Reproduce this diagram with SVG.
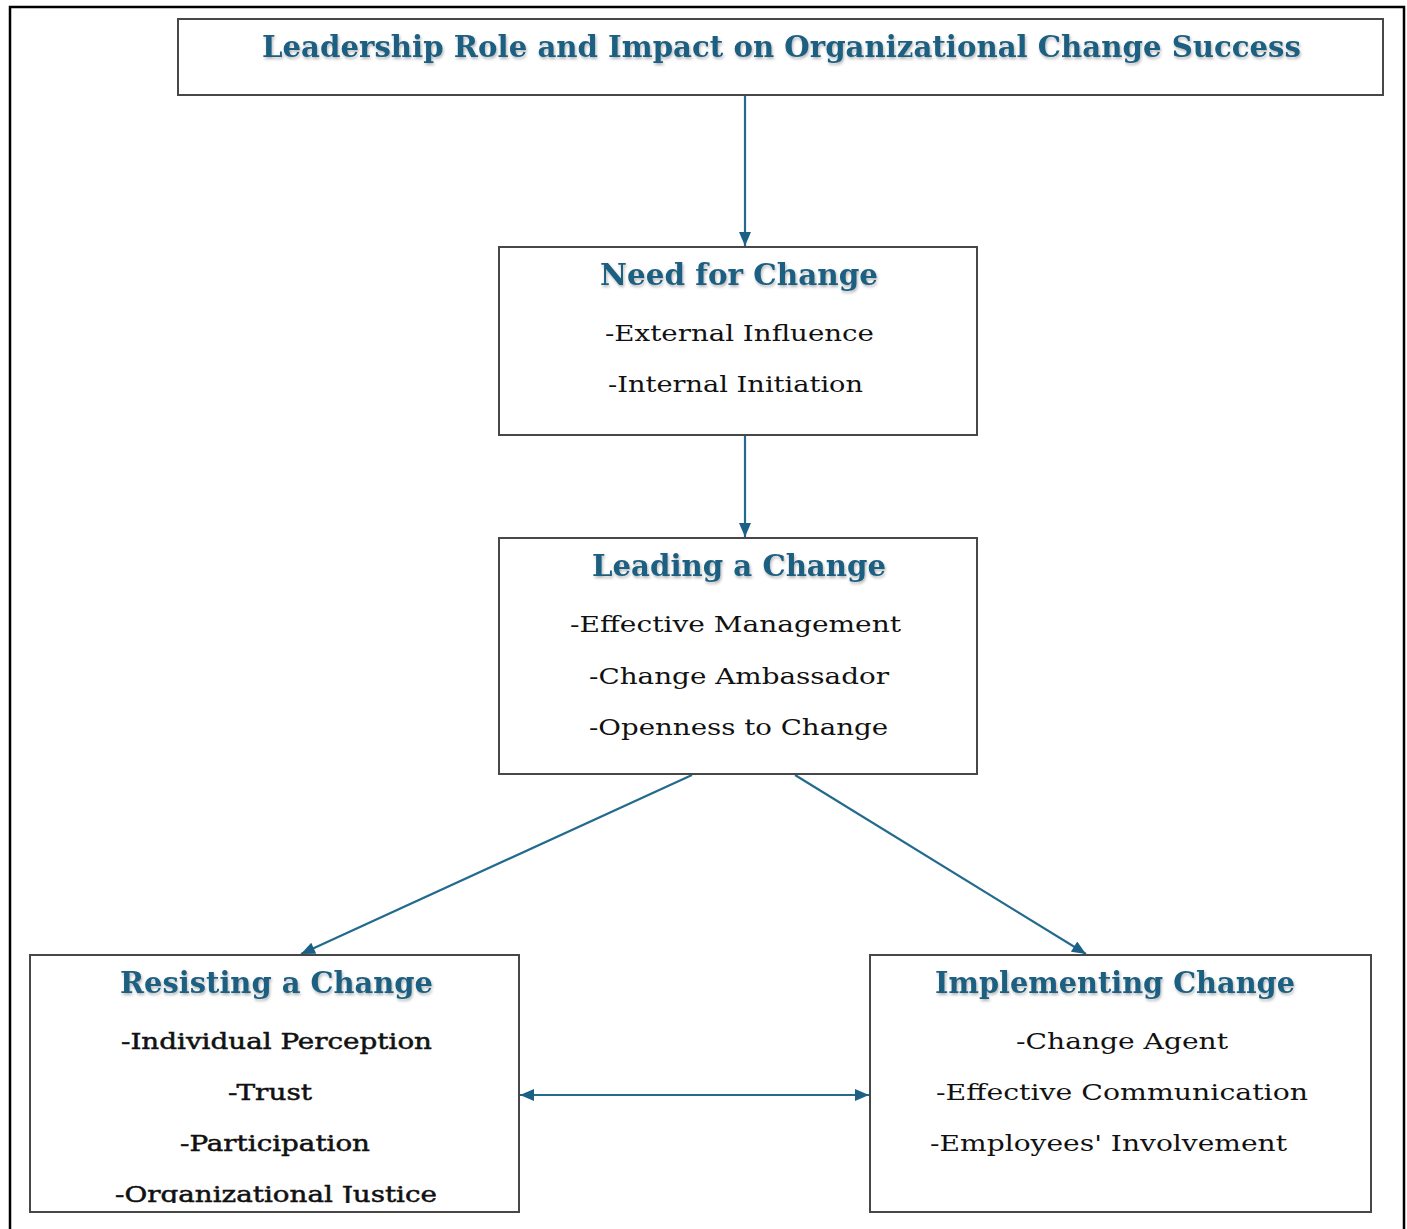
<svg xmlns="http://www.w3.org/2000/svg" width="1407" height="1229" viewBox="0 0 1407 1229">
  <defs>
    <style>
      .box { fill: #ffffff; stroke: #474747; stroke-width: 2; }
      .frame { fill: none; stroke: #000000; stroke-width: 2.5; }
      .head { font-family: "DejaVu Serif", "Liberation Serif", serif; font-weight: bold; font-size: 29px; fill: #1c5f80; text-anchor: middle; filter: url(#soft); }
      .item { font-family: "DejaVu Serif", "Liberation Serif", serif; font-size: 23px; fill: #111111; text-anchor: middle; }
      .heavy { stroke: #111111; stroke-width: 0.5; }
      .link { stroke: #236b8e; stroke-width: 2.2; fill: none; }
    </style>
    <filter id="soft" x="-5%" y="-30%" width="110%" height="160%">
      <feDropShadow dx="1" dy="2" stdDeviation="1.4" flood-color="#000000" flood-opacity="0.3"/>
    </filter>
    <marker id="tip" viewBox="0 0 14 12" refX="14" refY="6" markerWidth="15" markerHeight="12" markerUnits="userSpaceOnUse" orient="auto-start-reverse">
      <path d="M0,0 L14,6 L0,12 Z" fill="#1c6185"/>
    </marker>
    <clipPath id="cut-left">
      <rect x="30" y="955" width="489" height="248"/>
    </clipPath>
  </defs>

  <rect width="1407" height="1229" fill="#ffffff"/>
  <!-- outer frame, open at the bottom -->
  <path class="frame" d="M10,1240 L10,7 L1404,7 L1404,1240"/>

  <g id="connectors">
    <line class="link" x1="745" y1="96" x2="745" y2="246" marker-end="url(#tip)"/>
    <line class="link" x1="745" y1="436" x2="745" y2="537" marker-end="url(#tip)"/>
    <line class="link" x1="692" y1="775" x2="301" y2="954" marker-end="url(#tip)"/>
    <line class="link" x1="795" y1="775" x2="1086" y2="954" marker-end="url(#tip)"/>
    <line class="link" x1="520" y1="1095" x2="869" y2="1095" marker-start="url(#tip)" marker-end="url(#tip)"/>
  </g>

  <g id="title">
    <rect class="box" x="178" y="19" width="1205" height="76"/>
    <text class="head" x="781.5" y="57" textLength="1039" lengthAdjust="spacingAndGlyphs">Leadership Role and Impact on Organizational Change Success</text>
  </g>

  <g id="need">
    <rect class="box" x="499" y="247" width="478" height="188"/>
    <text class="head" x="739" y="285" textLength="278" lengthAdjust="spacingAndGlyphs">Need for Change</text>
    <text class="item" x="739.5" y="341" textLength="269" lengthAdjust="spacingAndGlyphs">-External Influence</text>
    <text class="item" x="735.5" y="392" textLength="255" lengthAdjust="spacingAndGlyphs">-Internal Initiation</text>
  </g>

  <g id="leading">
    <rect class="box" x="499" y="538" width="478" height="236"/>
    <text class="head" x="739" y="576" textLength="294" lengthAdjust="spacingAndGlyphs">Leading a Change</text>
    <text class="item" x="735.5" y="632" textLength="331" lengthAdjust="spacingAndGlyphs">-Effective Management</text>
    <text class="item" x="739" y="684" textLength="300" lengthAdjust="spacingAndGlyphs">-Change Ambassador</text>
    <text class="item" x="738.5" y="735" textLength="299" lengthAdjust="spacingAndGlyphs">-Openness to Change</text>
  </g>

  <g id="resisting">
    <rect class="box" x="30" y="955" width="489" height="257"/>
    <text class="head" x="276.5" y="993" textLength="313" lengthAdjust="spacingAndGlyphs">Resisting a Change</text>
    <text class="item heavy" x="276.5" y="1049" textLength="311" lengthAdjust="spacingAndGlyphs">-Individual Perception</text>
    <text class="item heavy" x="270" y="1100" textLength="84" lengthAdjust="spacingAndGlyphs">-Trust</text>
    <text class="item heavy" x="275" y="1151" textLength="190" lengthAdjust="spacingAndGlyphs">-Participation</text>
    <g clip-path="url(#cut-left)">
      <text class="item heavy" x="276" y="1202" textLength="322" lengthAdjust="spacingAndGlyphs">-Organizational Justice</text>
    </g>
  </g>

  <g id="implementing">
    <rect class="box" x="870" y="955" width="501" height="257"/>
    <text class="head" x="1115" y="993" textLength="360" lengthAdjust="spacingAndGlyphs">Implementing Change</text>
    <text class="item" x="1122" y="1049" textLength="212" lengthAdjust="spacingAndGlyphs">-Change Agent</text>
    <text class="item" x="1122" y="1100" textLength="372" lengthAdjust="spacingAndGlyphs">-Effective Communication</text>
    <text class="item" x="1108.5" y="1151" textLength="357" lengthAdjust="spacingAndGlyphs">-Employees' Involvement</text>
  </g>
</svg>
